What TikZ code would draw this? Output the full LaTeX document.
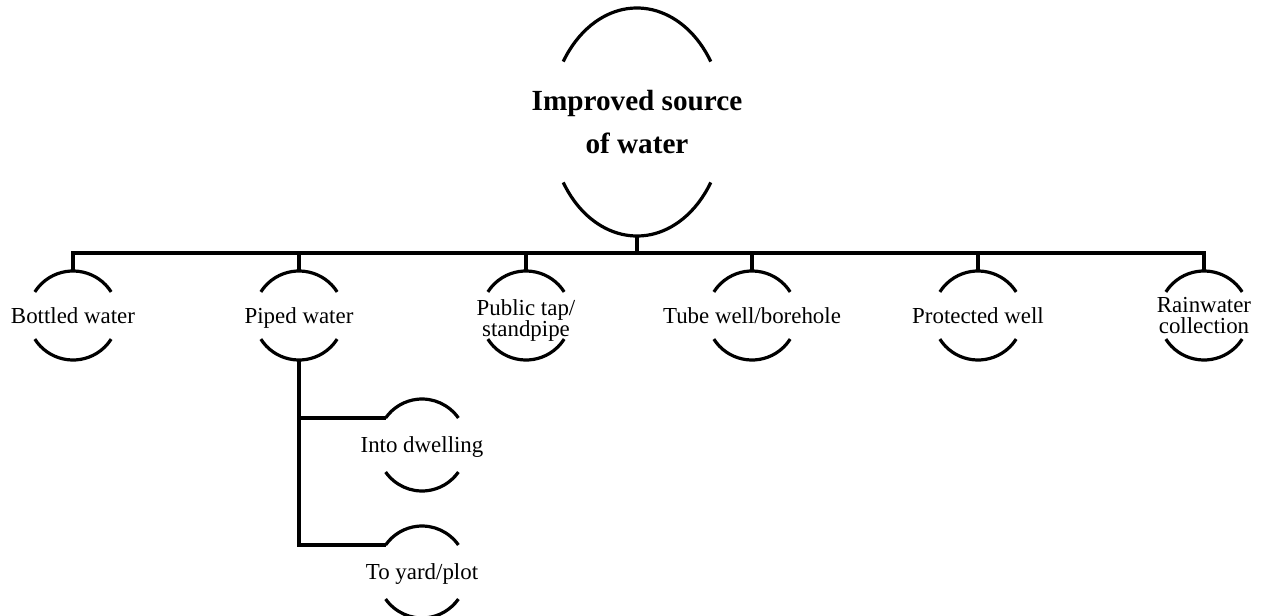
\documentclass[tikz,border=0pt]{standalone}
\usepackage{fontspec}
\setmainfont{Liberation Serif}
% Draws the open top and bottom caps of an elliptic outline around a node,
% and names its top, bottom and upper-left points for the connectors.
% #1 node name, #2 x radius, #3 y radius, #4 angle where each cap stops
\newcommand\roundcaps[4]{%
  \draw[link] ([shift={(#4:#2 and #3)}]#1.center)
    arc[start angle=#4, end angle=180-#4, x radius=#2, y radius=#3];
  \draw[link] ([shift={(180+#4:#2 and #3)}]#1.center)
    arc[start angle=180+#4, end angle=360-#4, x radius=#2, y radius=#3];
  \coordinate (#1-top) at ([yshift=#3]#1.center);
  \coordinate (#1-bot) at ([yshift=-#3]#1.center);
  \coordinate (#1-left) at ([shift={(180-#4:#2 and #3)}]#1.center);
}
\begin{document}
\begin{tikzpicture}[x=0.5pt,y=0.5pt,
  link/.style={line width=1.6pt, line join=miter},
  leaf/.style={font=\fontsize{11.45}{10.4}\selectfont, inner sep=0pt,
    align=center, text depth=0pt},
  root/.style={font=\bfseries\fontsize{14.6}{21.5}\selectfont, inner sep=0pt,
    align=center, text depth=0pt}]
\useasboundingbox (0,0) rectangle (1262,-615);

% root
\node[root] (root) at (637,-122) {Improved source\\of water};
\roundcaps{root}{43.5pt}{57pt}{32}

% first level
\node[leaf] (bottled) at (73,-315.5)   {Bottled water};
\node[leaf] (piped)   at (299,-315.5)  {Piped water};
\node[leaf, text height=20.5pt] (tap) at (526,-315.5) {Public tap/\\standpipe};
\node[leaf] (tube)    at (752,-315.5)  {Tube well/borehole};
\node[leaf] (prot)    at (978,-315.5)  {Protected well};
\node[leaf] (rain)    at (1204,-315.5) {Rainwater\\collection};
\foreach \n in {bottled,piped,tap,tube,prot,rain}
  {\roundcaps{\n}{22.5pt}{22.25pt}{32}}

% piped water branches
\node[leaf] (dwell) at (422,-445) {Into dwelling};
\node[leaf] (yard)  at (422,-572) {To yard/plot};
\roundcaps{dwell}{22.5pt}{23pt}{36}
\roundcaps{yard}{22.5pt}{23pt}{36}

% bus connecting the root to the first level
\coordinate (bus) at (637,-253);
\draw[link] (root-bot) -- (bus);
\draw[link] (bottled-top) -- (bottled-top |- bus) -- (rain-top |- bus) -- (rain-top);
\foreach \n in {piped,tap,tube,prot}
  {\draw[link] (\n-top) -- (\n-top |- bus);}

% piped water tree
\draw[link] (piped-bot) |- (dwell-left);
\draw[link] (piped-bot) |- (yard-left);
\end{tikzpicture}
\end{document}
